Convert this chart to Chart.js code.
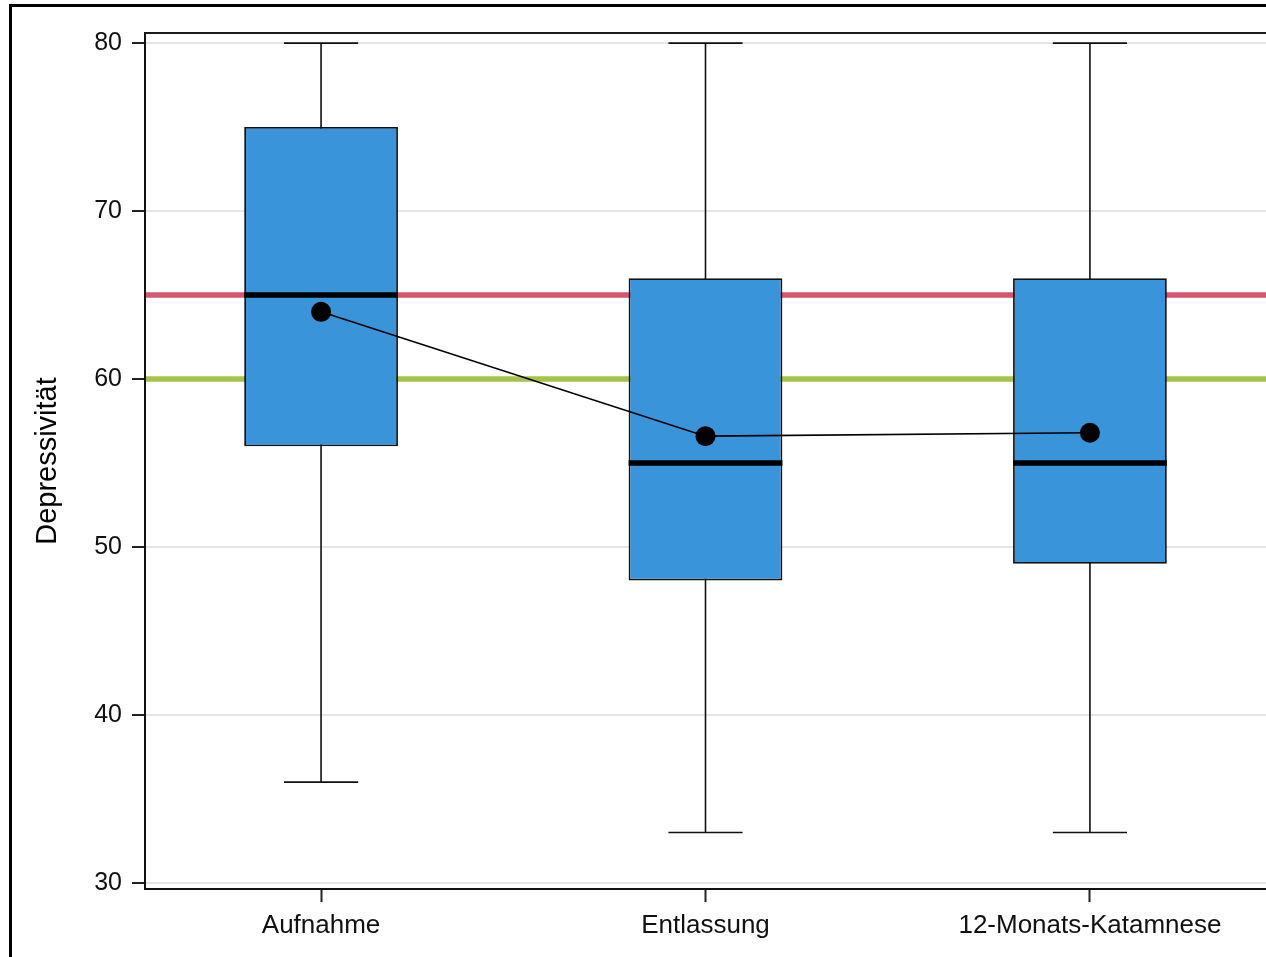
<!DOCTYPE html>
<html>
<head>
<meta charset="utf-8">
<script src="https://cdn.jsdelivr.net/npm/chart.js@4.4.1/dist/chart.umd.min.js"></script>
<style>
  html, body { margin: 0; padding: 0; background: #ffffff; overflow: hidden; }
  #wrap { position: absolute; left: 0; top: 0; width: 1266px; height: 957px; }
</style>
</head>
<body>
<div id="wrap"><canvas id="c" width="1266" height="957"></canvas></div>
<script>
// ---- data ----
const categories = ['Aufnahme', 'Entlassung', '12-Monats-Katamnese'];
const whiskerLow  = [36, 33, 33];
const q1          = [56, 48, 49];
const medians     = [65, 55, 55];
const q3          = [75, 66, 66];
const whiskerHigh = [80, 80, 80];
const means       = [64.0, 56.6, 56.8];
const refLines    = [65, 60];
const yTicks      = [30, 40, 50, 60, 70, 80];
const yTitle      = 'Depressivität';

// ---- styles ----
const boxColor = '#3a94d9';
const refColors = ['#d6566f', '#a5c249'];
const FONT = '"Liberation Sans", Arial, sans-serif';

const boxPlugin = {
  id: 'boxParts',
  beforeDraw(chart) {
    const ctx = chart.ctx;
    ctx.save();
    ctx.fillStyle = '#ffffff';
    ctx.fillRect(0, 0, chart.width, chart.height);
    // outer frame (left + top visible)
    ctx.strokeStyle = '#000000';
    ctx.lineWidth = 3;
    ctx.beginPath();
    ctx.moveTo(10.5, chart.height + 5);
    ctx.lineTo(10.5, 5.5);
    ctx.lineTo(chart.width + 5, 5.5);
    ctx.stroke();
    ctx.restore();
  },
  beforeDatasetsDraw(chart) {
    const ctx = chart.ctx, x = chart.scales.x, y = chart.scales.y, a = chart.chartArea;
    ctx.save();
    // reference lines
    ctx.lineWidth = 5.5;
    refLines.forEach((v, i) => {
      const py = y.getPixelForValue(v);
      ctx.strokeStyle = refColors[i];
      ctx.beginPath();
      ctx.moveTo(a.left + 1, py);
      ctx.lineTo(a.right, py);
      ctx.stroke();
    });
    // whiskers
    ctx.strokeStyle = '#111111';
    ctx.lineWidth = 1.6;
    categories.forEach((c, i) => {
      const px = x.getPixelForValue(i);
      const half = x.getPixelForValue(i + 0.0965) - px;
      const pl = y.getPixelForValue(whiskerLow[i]);
      const ph = y.getPixelForValue(whiskerHigh[i]);
      ctx.beginPath();
      ctx.moveTo(px, pl); ctx.lineTo(px, ph);
      ctx.moveTo(px - half, pl); ctx.lineTo(px + half, pl);
      ctx.moveTo(px - half, ph); ctx.lineTo(px + half, ph);
      ctx.stroke();
    });
    ctx.restore();
  },
  afterDatasetDraw(chart, args) {
    if (args.index !== 0) return;
    const ctx = chart.ctx, y = chart.scales.y;
    const meta = chart.getDatasetMeta(0);
    ctx.save();
    ctx.strokeStyle = '#000000';
    ctx.lineWidth = 5.5;
    meta.data.forEach((bar, i) => {
      const pm = y.getPixelForValue(medians[i]);
      ctx.beginPath();
      ctx.moveTo(bar.x - bar.width / 2, pm);
      ctx.lineTo(bar.x + bar.width / 2, pm);
      ctx.stroke();
    });
    ctx.restore();
  },
  afterDraw(chart) {
    const ctx = chart.ctx, a = chart.chartArea;
    ctx.save();
    ctx.strokeStyle = '#1a1a1a';
    ctx.lineWidth = 2;
    ctx.beginPath();
    ctx.moveTo(a.left, a.top);
    ctx.lineTo(chart.width, a.top);
    ctx.stroke();
    ctx.restore();
  }
};

new Chart(document.getElementById('c'), {
  data: {
    datasets: [
      {
        type: 'bar',
        data: categories.map((c, i) => ({ x: i, y: [q1[i], q3[i]] })),
        backgroundColor: boxColor,
        borderColor: '#111111',
        borderWidth: 1.8,
        borderSkipped: false,
        barPercentage: 0.4,
        categoryPercentage: 1.0,
        order: 2
      },
      {
        type: 'line',
        data: categories.map((c, i) => ({ x: i, y: means[i] })),
        borderColor: '#000000',
        borderWidth: 1.6,
        pointRadius: 10,
        pointBackgroundColor: '#000000',
        pointBorderWidth: 0,
        tension: 0,
        fill: false,
        order: 1
      }
    ]
  },
  options: {
    responsive: false,
    animation: false,
    devicePixelRatio: 1,
    layout: { autoPadding: false, padding: { top: 33, right: 0, left: 0, bottom: 0 } },
    plugins: { legend: { display: false }, tooltip: { enabled: false } },
    scales: {
      x: {
        type: 'linear',
        offset: false,
        min: -0.458,
        max: 2.458,
        afterBuildTicks(s) { s.ticks = categories.map((c, i) => ({ value: i })); },
        afterFit(s) { s.height = 68; s.paddingRight = 0; s.paddingLeft = 0; },
        ticks: {
          callback: (v) => categories[v],
          font: { family: FONT, size: 26 },
          color: '#111111',
          padding: 8,
          maxRotation: 0,
          autoSkip: false
        },
        grid: { offset: false, drawOnChartArea: false, drawTicks: true, tickLength: 13, tickColor: '#222222', tickWidth: 2 },
        border: { display: true, color: '#111111', width: 2 }
      },
      y: {
        type: 'linear',
        min: 29.64,
        max: 80.6,
        afterBuildTicks(s) { s.ticks = yTicks.map(v => ({ value: v })); },
        afterFit(s) { s.width = 145; s.paddingTop = 0; s.paddingBottom = 0; },
        ticks: {
          font: { family: FONT, size: 25 },
          color: '#111111',
          padding: 10
        },
        grid: { color: '#e6e6e6', lineWidth: 2, tickLength: 13, tickColor: '#222222', tickWidth: 2 },
        border: { display: true, color: '#111111', width: 2 },
        title: {
          display: true,
          text: yTitle,
          font: { family: FONT, size: 29 },
          color: '#000000',
          padding: { top: 31, bottom: 0 }
        }
      }
    }
  },
  plugins: [boxPlugin]
});
</script>
</body>
</html>
